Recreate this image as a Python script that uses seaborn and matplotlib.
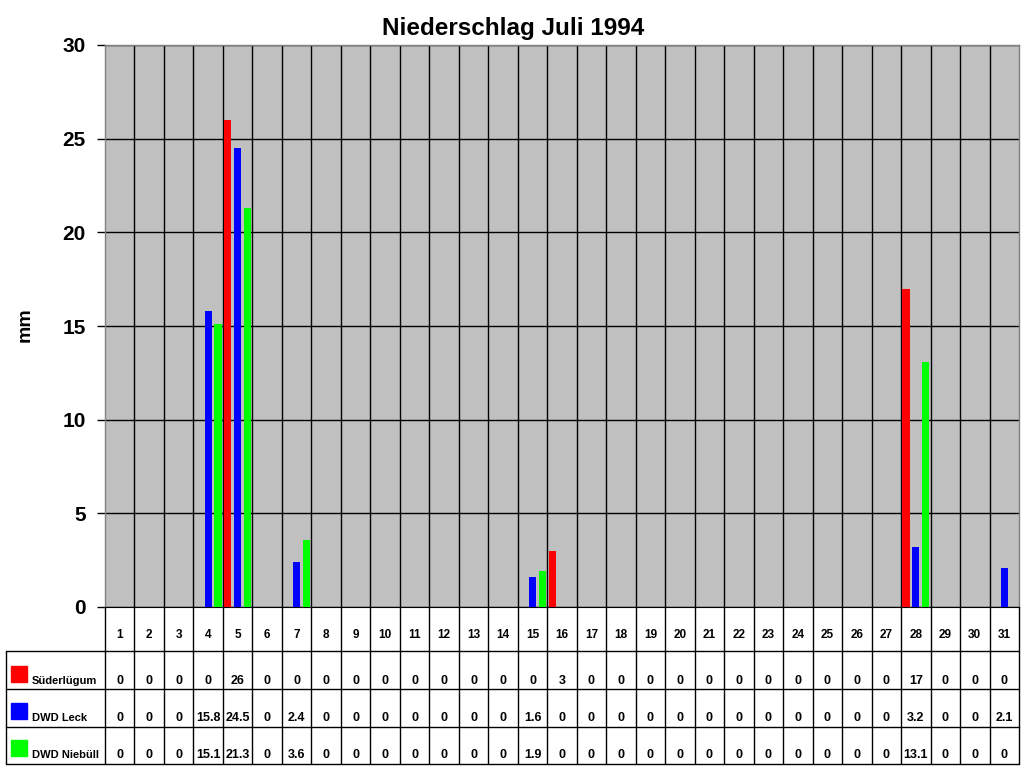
import matplotlib
matplotlib.use("Agg")
import matplotlib.pyplot as plt
import matplotlib.transforms as mtransforms
import seaborn as sns
import pandas as pd
import numpy as np

days = [str(d) for d in range(1, 32)]
series_names = ["Süderlügum", "DWD Leck", "DWD Niebüll"]
sued = [0, 0, 0, 0, 26, 0, 0, 0, 0, 0, 0, 0, 0, 0, 0, 3, 0, 0, 0, 0, 0, 0, 0, 0, 0, 0, 0, 17, 0, 0, 0]
leck = [0, 0, 0, 15.8, 24.5, 0, 2.4, 0, 0, 0, 0, 0, 0, 0, 1.6, 0, 0, 0, 0, 0, 0, 0, 0, 0, 0, 0, 0, 3.2, 0, 0, 2.1]
nieb = [0, 0, 0, 15.1, 21.3, 0, 3.6, 0, 0, 0, 0, 0, 0, 0, 1.9, 0, 0, 0, 0, 0, 0, 0, 0, 0, 0, 0, 0, 13.1, 0, 0, 0]
colors = ["#FF0000", "#0000FF", "#00FF00"]
title = "Niederschlag Juli 1994"
ylabel = "mm"
yticks = [0, 5, 10, 15, 20, 25, 30]

sns.set_style("white")
plt.rcParams["font.family"] = ["Liberation Sans", "DejaVu Sans"]
plt.rcParams["font.weight"] = "bold"
plt.rcParams["text.color"] = "black"
plt.rcParams["ytick.color"] = "black"
plt.rcParams["ytick.labelcolor"] = "black"

values = [sued, leck, nieb]
df = pd.DataFrame({
    "day": days * 3,
    "series": [s for s in series_names for _ in days],
    "mm": sued + leck + nieb,
})

W, H = 1024, 768
fig = plt.figure(figsize=(W / 100, H / 100), dpi=100)
L, R, T, B = 105, 1019, 45, 607
ax = fig.add_axes([L / W, 1 - B / H, (R - L) / W, (B - T) / H])
ax.set_facecolor("#C0C0C0")

sns.barplot(data=df, x="day", y="mm", hue="series", order=days,
            hue_order=series_names, palette=colors, saturation=1, width=1.0, gap=0.28,
            linewidth=0, legend=False, ax=ax, zorder=3)

ax.set_xlim(-0.5, len(days) - 0.5)
ax.set_ylim(0, 30)
ax.set_yticks(yticks)
ax.set_yticklabels([str(t) for t in yticks], fontsize=15, fontweight="bold", color="black")
ax.tick_params(axis="y", direction="out", length=6, width=1, color="black", pad=8, left=True)
ax.set_xticks([])
ax.set_xlabel("")
ax.set_ylabel("")
ax.set_xticks(np.arange(len(days) - 1) + 0.5, minor=True)
ax.tick_params(axis="x", which="minor", length=0)
ax.grid(True, axis="y", which="major", color="black", lw=1, zorder=1)
ax.grid(True, axis="x", which="minor", color="black", lw=1, zorder=1)
ax.set_axisbelow(True)
for s in ["top", "right", "left"]:
    ax.spines[s].set_color("#808080")
    ax.spines[s].set_linewidth(1)
    ax.spines[s].set_visible(True)
ax.spines["bottom"].set_color("black")
ax.spines["bottom"].set_visible(True)

fig.text(513 / W, 1 - 28 / H, title, ha="center", va="center", fontsize=17.5, fontweight="bold", color="black")
fig.text(25 / W, 1 - 325 / H, ylabel, ha="center", va="center", rotation=90, fontsize=14, fontweight="bold", color="black")

# Data table below the plot
tr = mtransforms.blended_transform_factory(ax.transData, fig.transFigure)
def fy(py):
    return 1 - py / H

rows_y = [607, 651, 689, 727, 764]
for py in rows_y[1:]:
    fig.add_artist(plt.Line2D([6 / W, R / W], [fy(py), fy(py)], color="black", lw=1))
for i in range(len(days) + 1):
    xd = i - 0.5
    fig.add_artist(plt.Line2D([xd, xd], [fy(607), fy(764)], color="black", lw=1, transform=tr))
fig.add_artist(plt.Line2D([6 / W, 6 / W], [fy(651), fy(764)], color="black", lw=1))

for i, d in enumerate(days):
    fig.text(i, fy(635), d, transform=tr, ha="center", va="center", fontsize=8.5, fontweight="bold", color="black")

row_text_y = [681, 718, 755]
for r, (name, vals, col) in enumerate(zip(series_names, values, colors)):
    ty = row_text_y[r]
    fig.add_artist(plt.Rectangle((11 / W, fy(ty + 1)), 16 / W, 16 / H, color=col, transform=fig.transFigure))
    fig.text(32 / W, fy(ty), name, ha="left", va="center", fontsize=8, fontweight="bold", color="black")
    for i, v in enumerate(vals):
        fig.text(i, fy(ty), f"{v:g}", transform=tr, ha="center", va="center", fontsize=9, fontweight="bold", color="black")

fig.savefig("out.png", dpi=100)
